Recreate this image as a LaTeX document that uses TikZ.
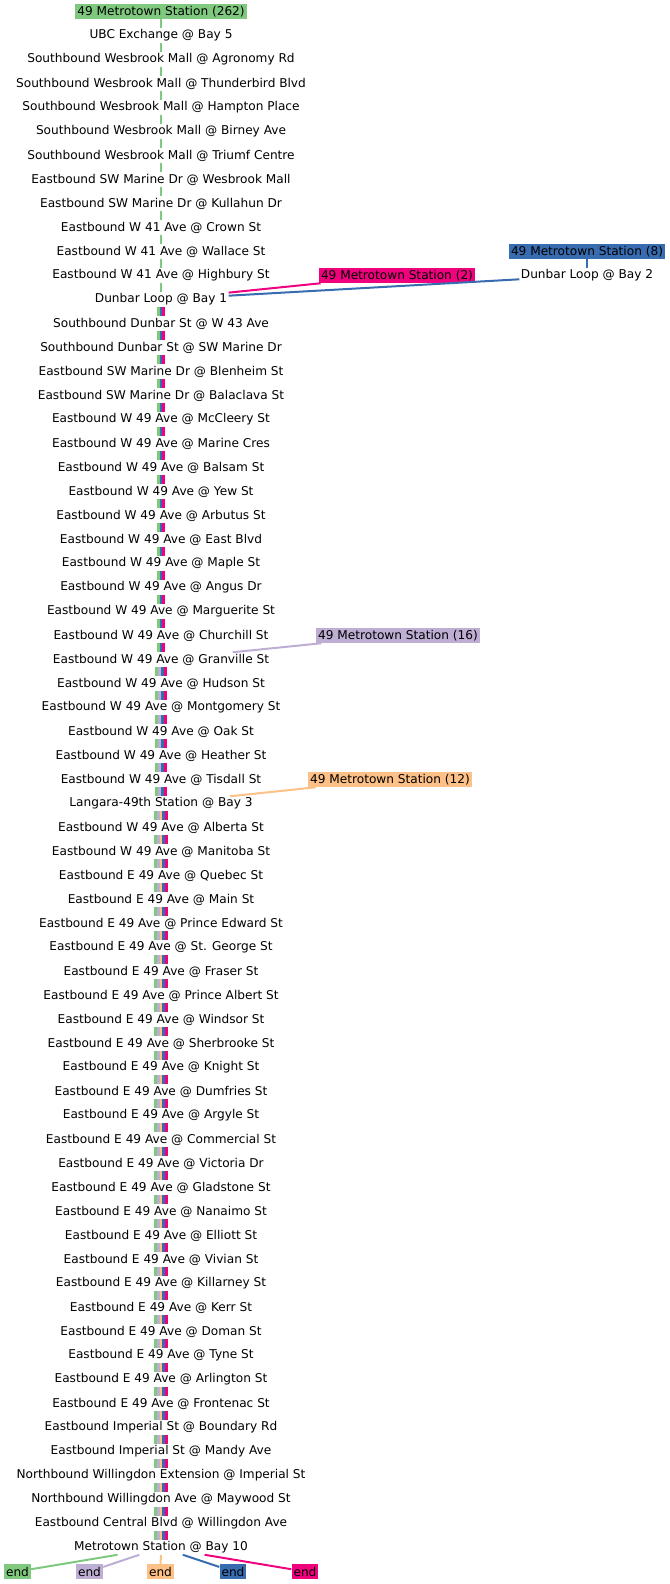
\documentclass[tikz,border=0pt]{standalone}
\usepackage{fontspec}
\setmainfont{DejaVu Sans}
\definecolor{rgreen}{HTML}{7FC97F}
\definecolor{rpurple}{HTML}{BEAED4}
\definecolor{rorange}{HTML}{FDC086}
\definecolor{rblue}{HTML}{386CB0}
\definecolor{rpink}{HTML}{F0027F}
\tikzset{
	stop/.style={inner xsep=1pt, inner ysep=0pt, minimum height=10.5pt, font=\fontsize{9.1pt}{11pt}\selectfont},
	terminus/.style={stop, fill=#1, inner xsep=1.5pt, minimum height=11.25pt},
	route/.style={draw=#1, line width=1.5pt},
	stripe/.style={draw=#1, line width=2.2pt}
}
\begin{document}
\begin{tikzpicture}[x=0.75pt, y=-0.75pt]
		\useasboundingbox (0,0) rectangle (670,1584);
		%Start of the trunk
		\node[terminus=rgreen] (s0) at (161,11.5) {49 Metrotown Station (262)};
		%Stops along the route
		\foreach \stopname [count=\i] in {UBC Exchange @ Bay 5, Southbound Wesbrook Mall @ Agronomy Rd, Southbound Wesbrook Mall @ Thunderbird Blvd, Southbound Wesbrook Mall @ Hampton Place, Southbound Wesbrook Mall @ Birney Ave, Southbound Wesbrook Mall @ Triumf Centre, Eastbound SW Marine Dr @ Wesbrook Mall, Eastbound SW Marine Dr @ Kullahun Dr, Eastbound W 41 Ave @ Crown St, Eastbound W 41 Ave @ Wallace St, Eastbound W 41 Ave @ Highbury St, Dunbar Loop @ Bay 1, Southbound Dunbar St @ W 43 Ave, Southbound Dunbar St @ SW Marine Dr, Eastbound SW Marine Dr @ Blenheim St, Eastbound SW Marine Dr @ Balaclava St, Eastbound W 49 Ave @ McCleery St, Eastbound W 49 Ave @ Marine Cres, Eastbound W 49 Ave @ Balsam St, Eastbound W 49 Ave @ Yew St, Eastbound W 49 Ave @ Arbutus St, Eastbound W 49 Ave @ East Blvd, Eastbound W 49 Ave @ Maple St, Eastbound W 49 Ave @ Angus Dr, Eastbound W 49 Ave @ Marguerite St, Eastbound W 49 Ave @ Churchill St, Eastbound W 49 Ave @ Granville St, Eastbound W 49 Ave @ Hudson St, Eastbound W 49 Ave @ Montgomery St, Eastbound W 49 Ave @ Oak St, Eastbound W 49 Ave @ Heather St, Eastbound W 49 Ave @ Tisdall St, Langara-49th Station @ Bay 3, Eastbound W 49 Ave @ Alberta St, Eastbound W 49 Ave @ Manitoba St, Eastbound E 49 Ave @ Quebec St, Eastbound E 49 Ave @ Main St, Eastbound E 49 Ave @ Prince Edward St, Eastbound E 49 Ave @ St. George St, Eastbound E 49 Ave @ Fraser St, Eastbound E 49 Ave @ Prince Albert St, Eastbound E 49 Ave @ Windsor St, Eastbound E 49 Ave @ Sherbrooke St, Eastbound E 49 Ave @ Knight St, Eastbound E 49 Ave @ Dumfries St, Eastbound E 49 Ave @ Argyle St, Eastbound E 49 Ave @ Commercial St, Eastbound E 49 Ave @ Victoria Dr, Eastbound E 49 Ave @ Gladstone St, Eastbound E 49 Ave @ Nanaimo St, Eastbound E 49 Ave @ Elliott St, Eastbound E 49 Ave @ Vivian St, Eastbound E 49 Ave @ Killarney St, Eastbound E 49 Ave @ Kerr St, Eastbound E 49 Ave @ Doman St, Eastbound E 49 Ave @ Tyne St, Eastbound E 49 Ave @ Arlington St, Eastbound E 49 Ave @ Frontenac St, Eastbound Imperial St @ Boundary Rd, Eastbound Imperial St @ Mandy Ave, Northbound Willingdon Extension @ Imperial St, Northbound Willingdon Ave @ Maywood St, Eastbound Central Blvd @ Willingdon Ave, Metrotown Station @ Bay 10}
		\node[stop] (s\i) at (161,{11.5+24*\i}) {\stopname};
		%Branch starts
		\node[terminus=rblue] (mt8) at (587,251.5) {49 Metrotown Station (8)};
		\node[stop] (db2) at (587,275.5) {Dunbar Loop @ Bay 2};
		\node[terminus=rpink] (mt2) at (397,275.5) {49 Metrotown Station (2)};
		\node[terminus=rpurple] (mt16) at (398,635.5) {49 Metrotown Station (16)};
		\node[terminus=rorange] (mt12) at (390,779.5) {49 Metrotown Station (12)};
		%Ends
		\foreach \c/\x in {rgreen/17.5,rpurple/89.5,rorange/160.5,rblue/233,rpink/305}
		\node[terminus=\c] (e\c) at (\x,1571.5) {end};
		%Single green line down to Dunbar Loop
		\foreach \i in {0,...,11}{
			\pgfmathtruncatemacro{\j}{\i+1}
			\draw[stripe=rgreen] (s\i) -- (s\j);
		}
		%Branches joining
		\draw[route=rblue] (mt8) -- (db2);
		\draw[route=rblue] (db2) -- (s12);
		\draw[route=rpink] (mt2) -- (s12);
		\draw[route=rpurple] (mt16) -- (s27);
		\draw[route=rorange] (mt12) -- (s33);
		%Shared trunk, one stripe per route
		\foreach \i in {12,...,26}{
			\pgfmathtruncatemacro{\j}{\i+1}
			\foreach \c/\dx in {rgreen/-2.1,rblue/0,rpink/2.1}
			\draw[stripe=\c] ([xshift=\dx pt]s\i.south) -- ([xshift=\dx pt]s\j.north);
		}
		\foreach \i in {27,...,32}{
			\pgfmathtruncatemacro{\j}{\i+1}
			\foreach \c/\dx in {rgreen/-3.15,rpurple/-1.05,rblue/1.05,rpink/3.15}
			\draw[stripe=\c] ([xshift=\dx pt]s\i.south) -- ([xshift=\dx pt]s\j.north);
		}
		\foreach \i in {33,...,63}{
			\pgfmathtruncatemacro{\j}{\i+1}
			\foreach \c/\dx in {rgreen/-4.2,rpurple/-2.1,rorange/0,rblue/2.1,rpink/4.2}
			\draw[stripe=\c] ([xshift=\dx pt]s\i.south) -- ([xshift=\dx pt]s\j.north);
		}
		%Split at Metrotown
		\foreach \c in {rgreen,rpurple,rorange,rblue,rpink}
		\draw[route=\c] (s64) -- (e\c);
\end{tikzpicture}
\end{document}
